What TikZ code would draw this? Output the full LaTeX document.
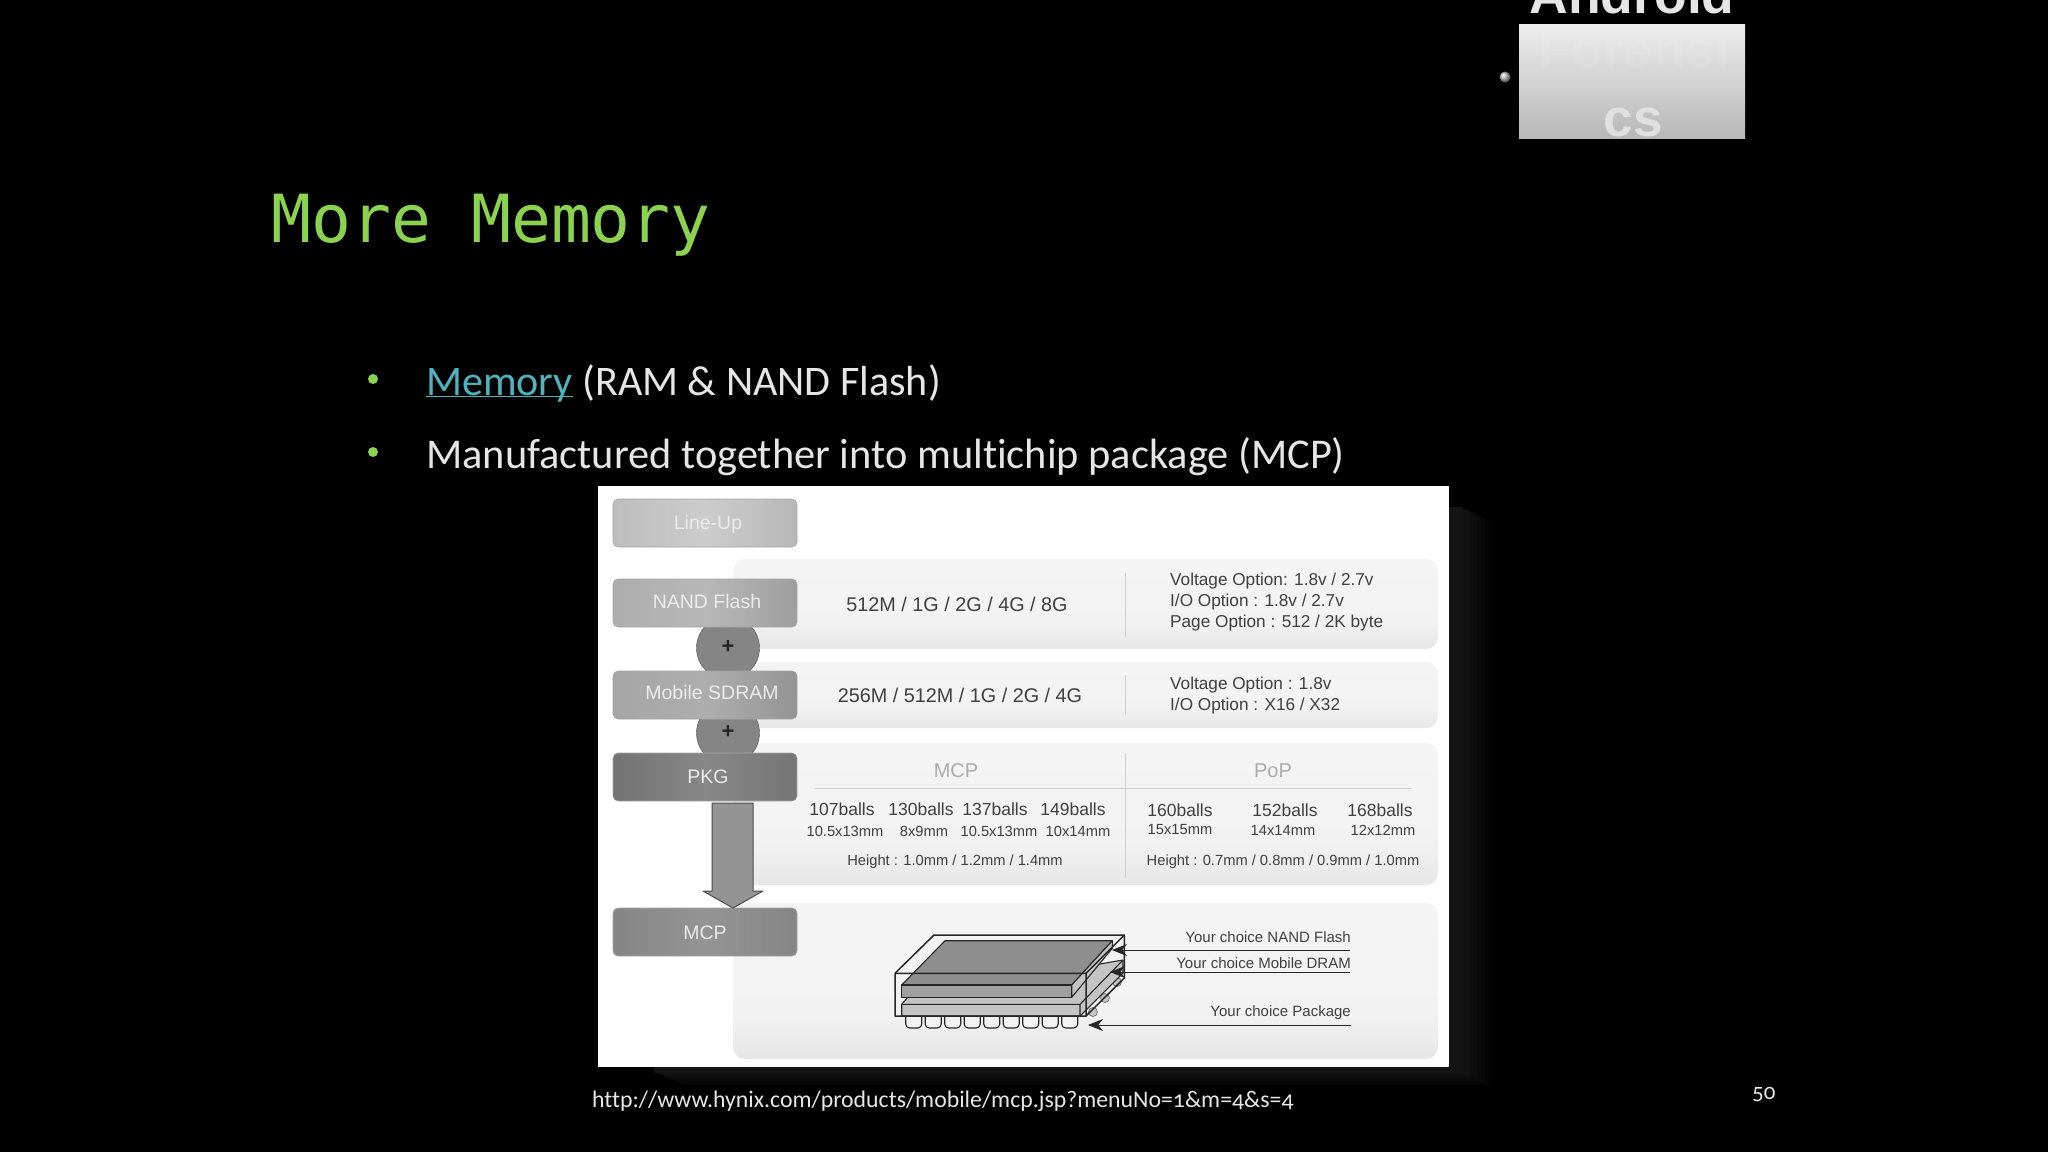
\documentclass[tikz,border=0pt]{standalone}
\usepackage{fontspec}
\setmainfont[Ligatures=NoCommon]{Carlito}
\newfontfamily\hxold[Ligatures=NoCommon,Numbers=OldStyle]{Carlito}
\newfontfamily\hxsans{Liberation Sans}
\newfontfamily\hxmono{DejaVu Sans Mono}
\usepackage{tikz}
\usetikzlibrary{arrows.meta,positioning,calc}
\newcommand{\hxsize}[1]{\fontsize{#1}{#1}\selectfont}
\definecolor{hxgreen}  {HTML}{8BD24F}
\definecolor{hxlink}   {HTML}{4FB3BF}
\definecolor{hxwhite}  {HTML}{E6E6E6}
\definecolor{hxink}    {HTML}{404040}
\definecolor{hxfaint}  {HTML}{ADADAD}
\definecolor{hxrule}   {HTML}{CFCFCF}
\definecolor{hxchip}   {HTML}{8E8E8E}
\definecolor{hxchiplt} {HTML}{C4C4C4}
\pgfdeclareverticalshading{hxpanelshade}{100bp}{color(0bp)=(black!15); color(18bp)=(black!12);
  color(40bp)=(black!5); color(90bp)=(black!4); color(100bp)=(black!9)}
\tikzset{
  hxbullet/.style={circle, fill=hxgreen, inner sep=0pt, minimum size=10pt},
  hxbody/.style={anchor=base west, inner sep=0pt, text=hxwhite, font=\hxsize{42.4}},
  hxpanel/.style={rounded corners=12pt, shading=hxpanelshade},
  hxbutton/.style={rounded corners=5pt, draw=black!35, line width=0.6pt},
  hxbtntext/.style={text=white!92!black, font=\hxsans\hxsize{19.5}, inner sep=0pt},
  hxplus/.style={circle, draw=black!70, fill=black!48, minimum size=63pt, inner sep=0pt},
  hxplustext/.style={text=black!85, font=\hxsans\bfseries\hxsize{22}, inner sep=0pt},
  hxsizes/.style={text=hxink, font=\hxsans\hxsize{19.8}, inner sep=0pt},
  hxopt/.style={text=hxink, font=\hxsans\hxsize{17.2}, inner sep=0pt, anchor=base west},
  hxballs/.style={text=hxink, font=\hxsans\hxsize{17.5}, inner sep=0pt},
  hxdim/.style={text=hxink, font=\hxsans\hxsize{14.7}, inner sep=0pt},
  hxhead/.style={text=hxfaint, font=\hxsans\hxsize{20}, inner sep=0pt},
  hxyour/.style={text=hxink, font=\hxsans\hxsize{15}, inner sep=0pt, anchor=base east},
  hxleader/.style={-{Stealth[length=15pt,width=12pt]}, draw=black!85, line width=1pt},
  hxpkg/.style={draw=black!85, line width=1.1pt, line join=round},
  hxballfoot/.style={hxpkg, fill=white!95!black, rounded corners=4pt},
}
\begin{document}
\begin{tikzpicture}[x=1pt,y=-1pt]
  \fill[black] (0,0) rectangle (2048,1152);
  \useasboundingbox (0,0) rectangle (2048,1152);

  % corner box
  \node[anchor=base, text=hxwhite, font=\hxsans\bfseries\hxsize{53.5}, inner sep=0pt] (android) at (1632,13) {Android};
  \shade[top color=black!7, bottom color=black!28] (1519,24) rectangle (1745,138);
  \node[anchor=base, text=white, opacity=0.08, font=\hxsans\bfseries\hxsize{53}, inner sep=0pt] (forensi) at (1634,68) {Forensi};
  \node[anchor=base, text=black!12, font=\hxsans\bfseries\hxsize{53}, inner sep=0pt] (forensics) at (1633,136) {cs};
  \shade[ball color=black!25] (1505,77) circle (5.5);

  % title and bullets
  \node[anchor=base west, text=hxgreen, font=\hxmono\hxsize{66.4}, inner sep=0pt] (title) at (271,242) {More Memory};
  \node[hxbullet] (dota) at (373,379) {};
  \node[hxbullet] (dotb) at (373,452) {};
  \node[hxbody, font=\hxsize{42.1}] (linea) at (426,395) {\textcolor{hxlink}{\underbar{Memory}} (RAM \& NAND Flash)};
  \node[hxbody] (lineb) at (426,468) {Manufactured together into multichip package (MCP)};

  % picture and its shadow
  \foreach \gg/\dd in {1/44,2/40,3/36,4/32,5/28,6/24,7/20,8/14} {
    \fill[black!\the\numexpr100-\gg\relax] (640+\dd,500+\dd/2) rectangle (1449+\dd,1067+\dd/2.4);
  }
  \fill[white] (598,486) rectangle (1449,1067);

  \shade[hxpanel] (733,559) rectangle (1438,649);
  \shade[hxpanel] (733,662) rectangle (1438,728);
  \shade[hxpanel] (733,743) rectangle (1438,885);
  \shade[hxpanel] (733,903) rectangle (1438,1059);

  \foreach \yy/\zz in {573/637, 675/715, 753/878} {
    \draw[hxrule, line width=0.8pt] (1125,\yy) -- (1125,\zz);
  }
  \draw[hxrule, line width=0.8pt] (815,788) -- (1412,788);

  % left column
  \node[hxplus] (plusa) at (728,648) {};
  \node[hxplus] (plusb) at (728,733) {};
  \node[hxplustext] at (728,647) {+};
  \node[hxplustext] at (728,732) {+};

  \shade[hxbutton, left color=black!26, right color=black!28, middle color=black!20] (613,499) rectangle (797,547);
  \shade[hxbutton, left color=black!32, right color=black!38, middle color=black!28] (613,579) rectangle (797,627);
  \shade[hxbutton, left color=black!35, right color=black!42, middle color=black!32] (613,671) rectangle (797,719);
  \shade[hxbutton, left color=black!55, right color=black!54, middle color=black!47] (613,753) rectangle (797,801);
  \shade[hxbutton, left color=black!48, right color=black!48, middle color=black!42] (613,908) rectangle (797,956);
  \node[hxbtntext] (lineup) at (708,524) {Line-Up};
  \node[hxbtntext] (nand)   at (707,602) {NAND Flash};
  \node[hxbtntext] (sdram)  at (712,693) {Mobile SDRAM};
  \node[hxbtntext] (pkg)    at (708,777) {PKG};
  \node[hxbtntext] (mcp)    at (705,933) {MCP};

  \draw[draw=black!70, fill=black!42, line width=1pt, line join=round]
    (712,803) -- (753,803) -- (753,891) -- (763,891) -- (733,908) -- (703,891) -- (712,891) -- cycle;

  % panel texts
  \node[hxsizes] (nandsizes)  at (957,604) {512M / 1G / 2G / 4G / 8G};
  \node[hxsizes] (sdramsizes) at (960,695) {256M / 512M / 1G / 2G / 4G};
  \foreach \yy/\oo in {585/{Voltage Option: 1.8v / 2.7v}, 606/{I/O Option : 1.8v / 2.7v}, 627/{Page Option : 512 / 2K byte},
                       689/{Voltage Option : 1.8v}, 710/{I/O Option : X16 / X32}} {
    \node[hxopt] (opt\yy) at (1170,\yy) {\oo};
  }
  \node[hxhead] (mcphead) at (956,771) {MCP};
  \node[hxhead] (pophead) at (1273,771) {PoP};

  \foreach \xx/\bb/\mm/\dx in {842/107balls/10.5x13mm/845, 921/130balls/8x9mm/924, 995/137balls/10.5x13mm/999, 1073/149balls/10x14mm/1078} {
    \node[hxballs] (balls\xx) at (\xx,809) {\bb};
    \node[hxdim] (dim\xx) at (\dx,831) {\mm};
  }
  \foreach \xx/\bb/\mm/\dx in {1180/160balls/15x15mm/1180, 1285/152balls/14x14mm/1283, 1380/168balls/12x12mm/1383} {
    \node[hxballs] (balls\xx) at (\xx,810) {\bb};
    \node[hxdim] (dim\xx) at (\dx,830) {\mm};
  }
  \node[hxdim] (mcpheight) at (955,862) {Height : 1.0mm / 1.2mm / 1.4mm};
  \node[hxdim] (popheight) at (1283,862) {Height : 0.7mm / 0.8mm / 0.9mm / 1.0mm};

  % package drawing
  \foreach \xx/\yy in {1117/982, 1105/998, 1093/1012} {
    \draw[draw=black!55, fill=hxchiplt, line width=0.7pt] (\xx,\yy) circle (4.5);
  }
  \foreach \n in {0,...,8} {
    \draw[hxballfoot] ({905.7+19.5*\n},1014) -- ({905.7+19.5*\n},1028) -- ({921.7+19.5*\n},1028) -- ({921.7+19.5*\n},1014);
  }
  \draw[hxpkg, fill=hxchiplt] (901.7,1004.3) -- (908,997) -- (1123,960) -- (1123,973) -- (1080,1016) -- (901.7,1016) -- cycle;
  \draw[hxpkg] (901.7,1004.3) -- (1080,1004.3) -- (1123,960) (1080,1004.3) -- (1080,1016);
  \draw[hxpkg, fill=hxchip] (901.7,985) -- (945,940.7) -- (1112.3,940.7) -- (1071.7,985) -- cycle;
  \draw[hxpkg, fill=hxchip!85!white] (901.7,985) -- (1071.7,985) -- (1071.7,997.3) -- (901.7,997.3) -- cycle;
  \draw[hxpkg, fill=hxchiplt] (1071.7,985) -- (1112.3,940.7) -- (1112.3,948.3) -- (1071.7,997.3) -- cycle;
  \draw[hxpkg, line width=1.5pt] (895,973.3) -- (934,935) -- (1124.3,935) -- (1124.3,978) -- (1086,1016) -- (895,1016) -- cycle;
  \draw[hxpkg, line width=1.5pt] (895,973.3) -- (1086,973.3) -- (1124.3,935) (1086,973.3) -- (1086,1016);

  % leaders
  \node[hxyour] (younand) at (1351,942) {Your choice NAND Flash};
  \node[hxyour] (yousdr)  at (1351,968) {Your choice Mobile DRAM};
  \node[hxyour] (youpkg)  at (1351,1016) {Your choice Package};
  \coordinate (tipnand) at (1112,950);
  \coordinate (tipsdr)  at (1110,972);
  \coordinate (tippkg)  at (1088,1025);
  \coordinate (tailnand) at (1350,950);
  \coordinate (tailsdr)  at (1350,972);
  \coordinate (tailpkg)  at (1351,1025);
  \draw[hxleader] (tailnand) -- (tipnand);
  \draw[hxleader] (tailsdr) -- (tipsdr);
  \draw[hxleader] (tailpkg) -- (tippkg);

  % footer
  \node[anchor=base west, text=hxwhite, font=\hxold\hxsize{23.8}, inner sep=0pt] (source) at (592,1107) {http://www.hynix.com/products/mobile/mcp.jsp?menuNo=1\&m=4\&s=4};
  \node[anchor=base west, text=hxwhite, font=\hxold\hxsize{23}, inner sep=0pt] (pageno) at (1752,1099) {50};
\end{tikzpicture}
\end{document}
